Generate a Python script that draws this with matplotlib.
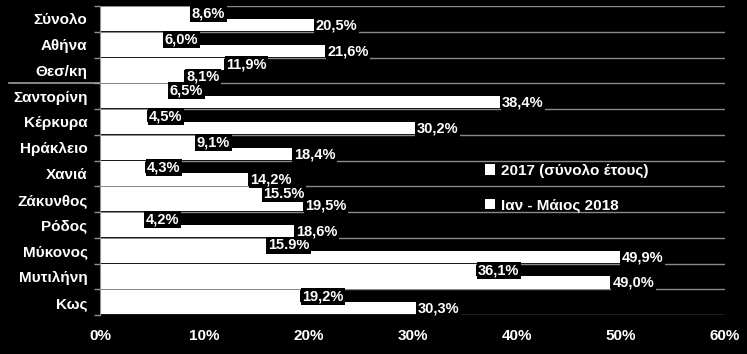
import numpy as np
import matplotlib
matplotlib.use("Agg")
import matplotlib.pyplot as plt
from matplotlib.ticker import PercentFormatter

plt.rcParams['font.family'] = ['Liberation Sans', 'DejaVu Sans']
plt.rcParams['font.weight'] = 'bold'

categories = ["Σύνολο", "Αθήνα", "Θεσ/κη", "Σαντορίνη", "Κέρκυρα", "Ηράκλειο",
              "Χανιά", "Ζάκυνθος", "Ρόδος", "Μύκονος", "Μυτιλήνη", "Κως"]
series_names = ["2017 (σύνολο έτους)", "Ιαν - Μάιος 2018"]
vals_2017 = [8.6, 6.0, 11.9, 6.5, 4.5, 9.1, 4.3, 15.5, 4.2, 15.9, 36.1, 19.2]
vals_2018 = [20.5, 21.6, 8.1, 38.4, 30.2, 18.4, 14.2, 19.5, 18.6, 49.9, 49.0, 30.3]
labels_2017 = ["8,6%", "6,0%", "11,9%", "6,5%", "4,5%", "9,1%", "4,3%", "15.5%",
               "4,2%", "15.9%", "36,1%", "19,2%"]
labels_2018 = ["20,5%", "21,6%", "8,1%", "38,4%", "30,2%", "18,4%", "14,2%", "19,5%",
               "18,6%", "49,9%", "49,0%", "30,3%"]
xticks = [0, 10, 20, 30, 40, 50, 60]

fig = plt.figure(figsize=(7.47, 3.54), dpi=100, facecolor='black')
ax = fig.add_axes([0.134, 0.11, 0.8365, 0.873], facecolor='black')

y = np.arange(len(categories))
h = 0.47
b1 = ax.barh(y - h / 2, vals_2017, height=h, color='white', label=series_names[0])
b2 = ax.barh(y + h / 2, vals_2018, height=h, color='white', label=series_names[1])

# value labels with black box, right of bar end
for yy, v, s in zip(y - h / 2, vals_2017, labels_2017):
    ax.text(v + 0.2, yy + 0.02, s, color='white', fontsize=10.5, fontweight='bold',
            va='center', ha='left',
            bbox=dict(facecolor='black', edgecolor='none', pad=1.0), zorder=4)
for yy, v, s in zip(y + h / 2, vals_2018, labels_2018):
    ax.text(v + 0.2, yy + 0.02, s, color='white', fontsize=10.5, fontweight='bold',
            va='center', ha='left',
            bbox=dict(facecolor='black', edgecolor='none', pad=1.0), zorder=4)

ax.set_xlim(0, 60)
ax.set_ylim(len(categories) - 0.5, -0.5)
ax.set_xticks(xticks)
ax.xaxis.set_major_formatter(PercentFormatter(decimals=0))
ax.set_yticks(y)
ax.set_yticklabels(categories, fontweight='bold')
ax.set_yticks(np.arange(len(categories) + 1) - 0.5, minor=True)
ax.tick_params(axis='y', which='major', length=0, pad=9, colors='white', labelsize=11)
ax.tick_params(axis='y', which='minor', length=4, color='#909090', width=1)
ax.tick_params(axis='x', length=0, pad=10, colors='white', labelsize=11)
for t in ax.get_xticklabels():
    t.set_fontweight('bold')

# row separators
ax.grid(axis='y', which='minor', color='#8a8a8a', linewidth=1)
ax.set_axisbelow(True)
for s in ['top', 'right', 'bottom']:
    ax.spines[s].set_visible(False)
ax.spines['left'].set_color('#909090')

# long divider between city totals and islands
ax.plot([-0.145, 0], [2.5, 2.5], color='#a0a0a0', lw=1.2,
        transform=ax.get_yaxis_transform(), clip_on=False)

leg = ax.legend(loc='upper left', bbox_to_anchor=(0.603, 0.515), frameon=False,
                handlelength=0.7, handleheight=0.7, handletextpad=0.35,
                labelspacing=1.35, prop={'size': 11, 'weight': 'bold'}, borderpad=0)
for t in leg.get_texts():
    t.set_color('white')

fig.savefig("out.png", dpi=100, facecolor='black')
